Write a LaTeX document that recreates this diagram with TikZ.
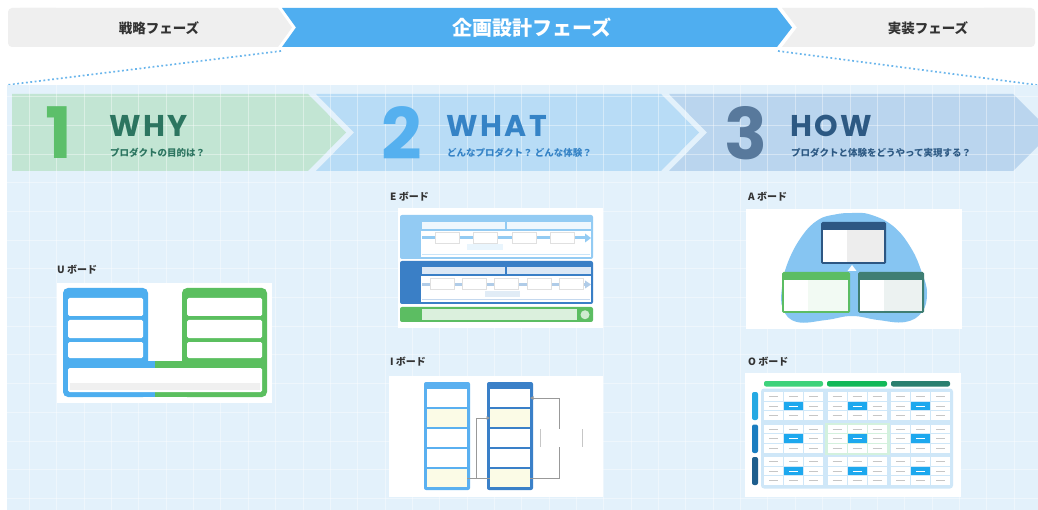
\documentclass[tikz,border=0pt]{standalone}
\usepackage{fontspec}
\newfontfamily\jp{Noto Sans CJK JP}
\newfontfamily\pop{Poppins}
\newfontfamily\popsp{Poppins}[LetterSpace=8]
\usetikzlibrary{arrows.meta,calc}
\definecolor{topgray}{HTML}{EFEFEF}
\definecolor{topblue}{HTML}{4FAEF0}
\definecolor{dotblue}{HTML}{6BB6EC}
\definecolor{panelbg}{HTML}{E3F1FB}
\definecolor{cA}{HTML}{C2E5D3}
\definecolor{cB}{HTML}{B8DCF6}
\definecolor{cC}{HTML}{BAD5EE}
\definecolor{numA}{HTML}{5CBF6A}
\definecolor{titA}{HTML}{2C7560}
\definecolor{numB}{HTML}{55B0EF}
\definecolor{titB}{HTML}{3583C6}
\definecolor{numC}{HTML}{58799C}
\definecolor{titC}{HTML}{2D5983}
\definecolor{ublue}{HTML}{4DAEEF}
\definecolor{ugreen}{HTML}{5BBF5F}
\definecolor{elight}{HTML}{93CBF3}
\definecolor{edark}{HTML}{3A7FC6}
\definecolor{egreen}{HTML}{5CBD62}
\definecolor{iblue}{HTML}{5AB0F0}
\definecolor{idark}{HTML}{3A80C8}
\definecolor{iyellow}{HTML}{FBFBE6}
\definecolor{blob}{HTML}{86C5F2}
\definecolor{anavy}{HTML}{2D5783}
\definecolor{agreen}{HTML}{5CBD63}
\definecolor{ateal}{HTML}{3F7E73}
\definecolor{ocyan}{HTML}{1DA8EE}
\definecolor{ogrid}{HTML}{CFE7F8}
\definecolor{ogA}{HTML}{3ED27B}
\definecolor{ogB}{HTML}{12B858}
\definecolor{ogC}{HTML}{2A7F6F}
\definecolor{orA}{HTML}{25A9E3}
\definecolor{orB}{HTML}{1A7DC0}
\definecolor{orC}{HTML}{1E5E8D}
\definecolor{omid}{HTML}{D3F1DE}
\definecolor{txtgray}{HTML}{333333}
\tikzset{
  phase/.style={font=\jp\bfseries\fontsize{13.5}{14}\selectfont, text=txtgray, inner sep=0},
  phasemain/.style={font=\jp\bfseries\fontsize{20}{22}\selectfont, text=white, inner sep=0},
  dotline/.style={draw=dotblue, line width=1.7, dash pattern=on 1.8pt off 2.6pt},
  bignum/.style={font=\pop\bfseries\fontsize{71}{71}\selectfont, inner sep=0},
  bigtitle/.style={font=\popsp\bfseries\fontsize{30}{30}\selectfont, inner sep=0, anchor=base west},
  subtitle/.style={font=\jp\bfseries\fontsize{9.5}{10}\selectfont, inner sep=0, anchor=west},
  blabel/.style={font=\jp\bfseries\fontsize{10}{11}\selectfont, text=txtgray, inner sep=0, anchor=west},
  gridline/.style={draw=white, opacity=0.4, line width=0.7},
  ibox/.style={draw=none, inner sep=0, outer sep=0, minimum width=40, minimum height=18},
  iconn/.style={draw=gray!80, line width=1},
  ebox/.style={fill=white, draw=black!12, line width=0.4},
}
\begin{document}
\begin{tikzpicture}[x=1pt,y=-1pt]
\useasboundingbox (0,0) rectangle (1038,510);
\fill[white] (0,0) rectangle (1038,510);

% ---------- top phase bar ----------
\fill[topgray, rounded corners=4] (8,8) rectangle (60,47);
\fill[topgray] (20,8) -- (278,8) -- (292,27.5) -- (278,47) -- (20,47) -- cycle;
\fill[topblue] (282,8) -- (777,8) -- (792,27.5) -- (777,47) -- (282,47) -- (296,27.5) -- cycle;
\fill[topgray, rounded corners=4] (980,8) rectangle (1035,47);
\fill[topgray] (782,8) -- (1025,8) -- (1025,47) -- (782,47) -- (797,27.5) -- cycle;
\node[phase] (ph1) at (159,28) {戦略フェーズ};
\node[phasemain] (ph2) at (532,28) {企画設計フェーズ};
\node[phase] (ph3) at (928,28) {実装フェーズ};

% dotted zoom lines
\coordinate (d1) at (281,51);
\coordinate (d2) at (7,85);
\coordinate (d3) at (778,51);
\coordinate (d4) at (1037,85);
\draw[dotline] (d1) -- (d2);
\draw[dotline] (d3) -- (d4);

% ---------- panel ----------
\fill[panelbg] (7,85) rectangle (1038,510);
\begin{scope}
\clip (7,85) rectangle (1038,510);
\fill[cA] (12,94) -- (308,94) -- (346,132.5) -- (308,171) -- (12,171) -- cycle;
\fill[cB] (316,94) -- (661,94) -- (699,132.5) -- (661,171) -- (316,171) -- (354,132.5) -- cycle;
\fill[cC] (669,94) -- (1013,94) -- (1051.5,132.5) -- (1013,171) -- (669,171) -- (707,132.5) -- cycle;
\foreach \k in {1,...,37} {
  \pgfmathsetmacro\gx{2+27.35*\k}
  \draw[gridline] (\gx,85) -- (\gx,510);
}
\foreach \k in {0,...,14} {
  \pgfmathsetmacro\gy{96.5+28.7*\k}
  \draw[gridline] (7,\gy) -- (1038,\gy);
}
\end{scope}

% chevron texts
\node[bignum, text=numA] (n1) at (58.5,133) {1};
\node[bigtitle, text=titA] (t1) at (109,137) {WHY};
\node[subtitle, text=titA] (s1) at (110,152.5) {プロダクトの目的は？};
\node[bignum, text=numB] (n2) at (402,133) {2};
\node[bigtitle, text=titB] (t2) at (446,137) {WHAT};
\node[subtitle, text=titB] (s2) at (447,152.5) {どんなプロダクト？ どんな体験？};
\node[bignum, text=numC] (n3) at (745.5,133) {3};
\node[bigtitle, text=titC] (t3) at (790,137) {HOW};
\node[subtitle, text=titC] (s3) at (791,152.5) {プロダクトと体験をどうやって実現する？};

% ---------- board labels ----------
\node[blabel] (lu) at (57,270) {U ボード};
\node[blabel] (le) at (390,197) {E ボード};
\node[blabel] (li) at (390,362) {I ボード};
\node[blabel] (la) at (748,197) {A ボード};
\node[blabel] (lo) at (748,362) {O ボード};

% ---------- U board ----------
\fill[white] (57,283) rectangle (272,403);
\fill[ublue, rounded corners=5] (63,288) rectangle (148,397);
\fill[ublue] (68,361) rectangle (155,397);
\fill[ugreen, rounded corners=5] (182,288) rectangle (267,397);
\fill[ugreen] (155,361) rectangle (262,397);
\foreach \yy/\hh in {298/316,320/338,342/358} {
  \fill[white, rounded corners=1.5] (68,\yy) rectangle (143,\hh);
  \fill[white, rounded corners=1.5] (187,\yy) rectangle (262,\hh);
}
\fill[white, rounded corners=1.5] (68,368) rectangle (262,392);
\fill[black!6] (70,383) rectangle (260,390);

% ---------- E board ----------
\fill[white] (398,208) rectangle (603,328);
\fill[elight, rounded corners=2] (400,215) rectangle (593,259);
\fill[white!85!elight] (422,222) rectangle (505,229);
\fill[white!85!elight] (507,222) rectangle (591,229);
\fill[white] (421,231) rectangle (591,257);
\fill[elight] (422,236.5) rectangle (586,239.5);
\fill[elight] (585,233.5) -- (591,238) -- (585,242.5) -- cycle;
\foreach \xx in {435,473,512,550} { \filldraw[ebox] (\xx,232) rectangle ++(24,11); }
\fill[white!80!elight] (467,244) rectangle (503,250);
\draw[elight!50, line width=0.4] (422,254.5) -- (590,254.5);
\fill[edark, rounded corners=2] (400,261) rectangle (593,304);
\fill[white!82!edark] (422,267) rectangle (505,274);
\fill[white!82!edark] (507,267) rectangle (591,274);
\fill[white] (421,276) rectangle (591,302);
\fill[white!60!edark] (422,283) rectangle (586,286);
\fill[white!60!edark] (585,280.5) -- (591,284.5) -- (585,288.5) -- cycle;
\foreach \xx in {430,462,494,527,559} { \filldraw[ebox] (\xx,278) rectangle ++(24,11); }
\fill[white!85!edark] (485,291) rectangle (520,297);
\draw[edark!30, line width=0.4] (422,299.5) -- (590,299.5);
\fill[egreen, rounded corners=2] (400,307) rectangle (593,322);
\fill[white!78!egreen] (422,309.5) rectangle (577,320);
\fill[white!70!egreen] (585,314.75) circle (4.5);

% ---------- I board ----------
\fill[white] (389,376) rectangle (603,497);
\fill[iblue, rounded corners=2] (424,382) rectangle (470,490);
\fill[idark, rounded corners=2] (487,382) rectangle (533,490);
\node[ibox, fill=white] (L1) at (447,398) {};
\node[ibox, fill=iyellow] (L2) at (447,418) {};
\node[ibox, fill=white] (L3) at (447,438) {};
\node[ibox, fill=white] (L4) at (447,458) {};
\node[ibox, fill=iyellow] (L5) at (447,478) {};
\node[ibox, fill=white] (R1) at (510,398) {};
\node[ibox, fill=iyellow] (R2) at (510,418) {};
\node[ibox, fill=white] (R3) at (510,438) {};
\node[ibox, fill=white] (R4) at (510,458) {};
\node[ibox, fill=iyellow] (R5) at (510,478) {};
\draw[iconn] (L5.east) -- (R5.west);
\draw[iconn, -{Triangle[length=3.5pt,width=3.5pt]}] (L5.east) -- ++(9,0) |- (R2.west);
\draw[iconn, -{Triangle[length=3.5pt,width=3.5pt]}] (R5.east) -- ++(29,0) |- (R1.east);
\node[ibox, fill=white, minimum width=42] (note) at (561,438) {};
\draw[gray!45, line width=0.6] (note.north west) -- (note.south west);
\draw[gray!45, line width=0.6] (note.north east) -- (note.south east);

% ---------- A board ----------
\fill[white] (746,209) rectangle (962,329);
\fill[blob] plot[smooth cycle, tension=0.7] coordinates {(852,213) (870,214.5) (893,226) (911,248) (922,273) (927,293) (922,312) (905,322) (878,320) (852,316) (826,320) (797,322) (783,309) (782,287) (788,262) (802,236) (818,220) (835,214.5)};
\fill[anavy, rounded corners=1.5] (821,222) rectangle (886,264);
\fill[white] (823,230) rectangle (847,262);
\fill[black!7!white] (847,230) rectangle (884,262);
\fill[white] (852,265) -- (847.5,271) -- (856.5,271) -- cycle;
\fill[agreen, rounded corners=1.5] (782,272) rectangle (850,313);
\fill[white] (784,280) rectangle (808,311);
\fill[white!92!agreen] (808,280) rectangle (848,311);
\fill[ateal, rounded corners=1.5] (858,272) rectangle (924,313);
\fill[white] (860,280) rectangle (884,311);
\fill[white!90!ateal] (884,280) rectangle (922,311);

% ---------- O board ----------
\fill[white] (745,373) rectangle (961,497);
\fill[ogA, rounded corners=2] (764,381) rectangle (823,386.5);
\fill[ogB, rounded corners=2] (827,381) rectangle (887,386.5);
\fill[ogC, rounded corners=2] (891,381) rectangle (950,386.5);
\fill[orA, rounded corners=2] (752,392) rectangle (758,420);
\fill[orB, rounded corners=2] (752,424.5) rectangle (758,453);
\fill[orC, rounded corners=2] (752,457) rectangle (758,485);
\fill[ogrid, rounded corners=3] (761,388.5) rectangle (953,488.5);
\fill[omid] (825,422.5) rectangle (889.5,455);
\foreach \bx in {764,827.5,891} {
  \foreach \by in {392,424.5,457} {
    \foreach \i in {0,1,2} {
      \foreach \j in {0,1,2} {
        \pgfmathsetmacro\cx{\bx+\i*20}
        \pgfmathsetmacro\cy{\by+\j*9.67}
        \pgfmathtruncatemacro\ctr{(\i==1)&&(\j==1)}
        \ifnum\ctr=1
          \fill[ocyan] (\cx,\cy) rectangle ++(19,8.67);
          \draw[white, line width=0.5] (\cx+5,\cy+4.3) -- ++(9,0);
        \else
          \fill[white] (\cx,\cy) rectangle ++(19,8.67);
          \draw[gray!45, line width=0.5] (\cx+5,\cy+4.3) -- ++(9,0);
        \fi
      }
    }
  }
}
\end{tikzpicture}
\end{document}
